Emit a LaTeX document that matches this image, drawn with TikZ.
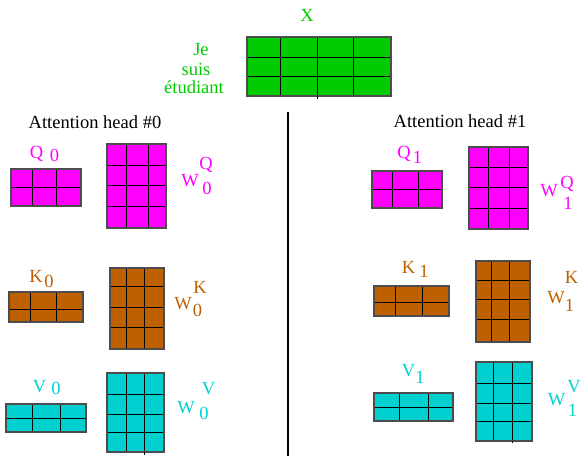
\documentclass[tikz,border=0pt]{standalone}
\usepackage{fontspec}
\setmainfont{Liberation Serif}
\definecolor{xgreen}{HTML}{00CC00}
\definecolor{qmag}{HTML}{FF00FF}
\definecolor{kbrown}{HTML}{BF6000}
\definecolor{vcyan}{HTML}{00D0D0}
\tikzset{
  lab/.style={anchor=base, inner sep=0pt, font=\fontsize{18.5}{22}\selectfont},
  gridline/.style={black, line width=1pt},
  frameline/.style={black!70, line width=1.3pt},
  sepline/.style={black, line width=1.4pt}
}
% #1 fill, #2 x1, #3 y1, #4 x2, #5 y2, #6 column lines, #7 row lines
\newcommand{\gridmat}[7]{%
  \fill[#1] (#2,#3) rectangle (#4,#5);
  \foreach \c in {#6} {\draw[gridline] (\c,#3) -- (\c,#5);}
  \foreach \r in {#7} {\draw[gridline] (#2,\r) -- (#4,\r);}
  \draw[frameline] (#2,#3) rectangle (#4,#5);
}
\begin{document}
\begin{tikzpicture}[x=1pt, y=-1pt]
\useasboundingbox[fill=white] (0,0) rectangle (581,456);

% ---- input X ----
\node[lab, text=xgreen] (xlab) at (307,21) {X};
\node[lab, text=xgreen] (je) at (201,55) {Je};
\node[lab, text=xgreen] (suis) at (196,75) {suis};
\node[lab, text=xgreen] (etud) at (194,93) {étudiant};
\gridmat{xgreen}{247}{37}{391}{96}{280,317,353}{57,76}
\draw[gridline] (317,96) -- (317,99);

% ---- separator ----
\draw[sepline] (288,112) -- (288,456);

% ---- headings ----
\node[lab] (head0) at (95,128) {Attention head \#0};
\node[lab] (head1) at (460,127) {Attention head \#1};

% ================= head 0 =================
% Q0
\node[lab, text=qmag] (q0) at (36.5,158) {Q};
\node[lab, text=qmag] (q0s) at (54.5,161) {0};
\gridmat{qmag}{11}{169}{81}{206}{32,56}{187}
% W0Q
\gridmat{qmag}{107}{144}{166}{228}{126,148}{165,185,206}
\node[lab, text=qmag] (wq0) at (190,186) {W};
\node[lab, text=qmag] (wq0sup) at (206,169) {Q};
\node[lab, text=qmag] (wq0sub) at (207,194) {0};

% K0
\node[lab, text=kbrown] (k0) at (36,282) {K};
\node[lab, text=kbrown] (k0s) at (49,287) {0};
\gridmat{kbrown}{9}{292}{83}{322}{30,56}{309}
% W0K
\gridmat{kbrown}{110}{268}{164}{349}{126,144}{286,307,327}
\node[lab, text=kbrown] (wk0) at (183,309) {W};
\node[lab, text=kbrown] (wk0sup) at (200,293) {K};
\node[lab, text=kbrown] (wk0sub) at (197.5,316) {0};

% V0
\node[lab, text=vcyan] (v0) at (39.5,392) {V};
\node[lab, text=vcyan] (v0s) at (56,394) {0};
\gridmat{vcyan}{6}{404}{86}{432}{32,60}{418}
% W0V
\gridmat{vcyan}{107}{373}{164}{452}{126,144}{394,414,432}
\draw[gridline] (144,452) -- (144,455);
\node[lab, text=vcyan] (wv0) at (186,413) {W};
\node[lab, text=vcyan] (wv0sup) at (208.5,394) {V};
\node[lab, text=vcyan] (wv0sub) at (204,419) {0};

% ================= head 1 =================
% Q1
\node[lab, text=qmag] (q1) at (404,158) {Q};
\node[lab, text=qmag] (q1s) at (417.5,163) {1};
\gridmat{qmag}{372}{171}{442}{208}{392,418}{189}
% W1Q
\gridmat{qmag}{469}{147}{528}{229}{488,509}{167,187,208}
\node[lab, text=qmag] (wq1) at (549,196) {W};
\node[lab, text=qmag] (wq1sup) at (567,188) {Q};
\node[lab, text=qmag] (wq1sub) at (568,209) {1};

% K1
\node[lab, text=kbrown] (k1) at (408.5,273) {K};
\node[lab, text=kbrown] (k1s) at (424,277) {1};
\gridmat{kbrown}{374}{286}{449}{316}{395,422}{302}
% W1K
\gridmat{kbrown}{476}{261}{530}{342}{491,509}{280,299,319}
\node[lab, text=kbrown] (wk1) at (556,303) {W};
\node[lab, text=kbrown] (wk1sup) at (571.5,283) {K};
\node[lab, text=kbrown] (wk1sub) at (569.5,311) {1};

% V1
\node[lab, text=vcyan] (v1) at (408.5,376) {V};
\node[lab, text=vcyan] (v1s) at (420,383) {1};
\gridmat{vcyan}{374}{393}{453}{421}{399,428}{407}
% W1V
\gridmat{vcyan}{476}{362}{532}{441}{493,512}{383,403,421}
\draw[gridline] (512,441) -- (512,443);
\node[lab, text=vcyan] (wv1) at (556.5,405) {W};
\node[lab, text=vcyan] (wv1sup) at (574,392) {V};
\node[lab, text=vcyan] (wv1sub) at (572.5,416) {1};
\end{tikzpicture}
\end{document}
